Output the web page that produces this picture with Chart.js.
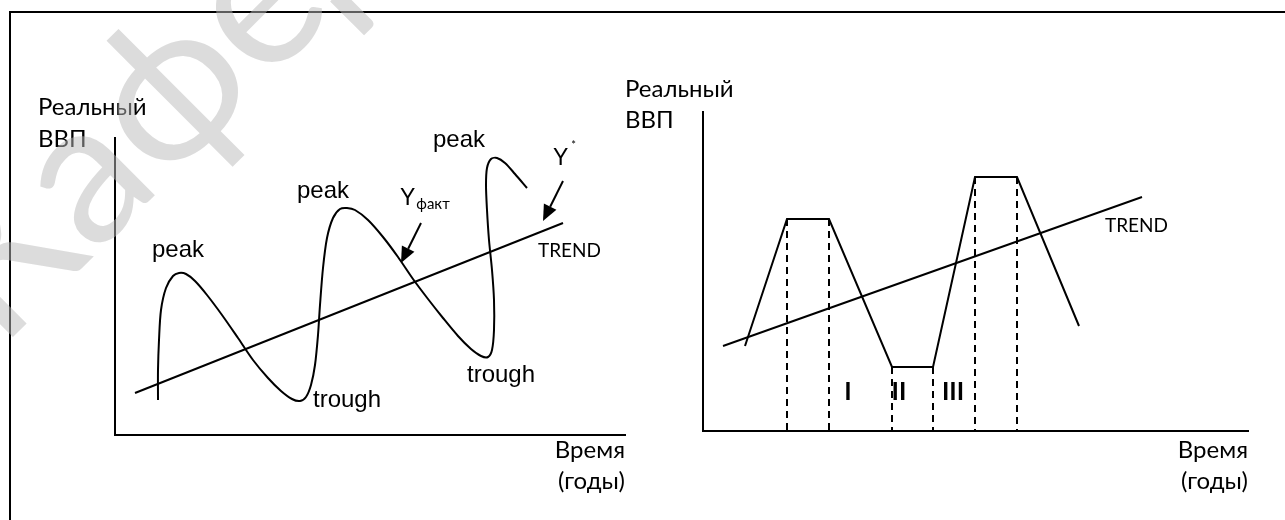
<!DOCTYPE html>
<html>
<head>
<meta charset="utf-8">
<script src="https://cdn.jsdelivr.net/npm/chart.js@4/dist/chart.umd.min.js"></script>
<style>
  body { margin: 0; background: #fff; }
  #frame { position: absolute; left: 9px; top: 11px; width: 1300px; height: 540px; border-left: 2px solid #000; border-top: 2px solid #000; }
  canvas { position: absolute; left: 0; top: 0; }
</style>
</head>
<body>
<div id="frame"></div>
<canvas id="cycle" width="1285" height="520"></canvas>
<canvas id="phases" width="1285" height="520"></canvas>
<script>
// left panel: actual GDP wave around the trend (time units, GDP units)
const waveX = [4.3, 4.3, 4.4, 4.6, 5.1, 5.8, 6.4, 7.1, 8.0, 9.2, 10.7, 12.3, 13.8, 15.3, 16.6, 17.7, 18.5, 19.1, 19.6, 20.0, 20.3, 20.5, 20.8, 21.2, 21.8, 22.5, 23.2, 24.0, 25.3, 26.8, 28.3, 29.8, 31.3, 32.8, 34.3, 35.6, 36.6, 37.3, 37.7, 37.9, 37.9, 37.7, 37.4, 37.2, 37.1, 37.2, 37.6, 38.2, 39.0, 40.0, 41.2];
const waveY = [3.5, 6.5, 9.5, 12.5, 14.7, 15.9, 16.2, 16.1, 15.4, 14.0, 12.0, 9.7, 7.5, 5.7, 4.4, 3.6, 3.4, 3.8, 5.0, 7.0, 10.0, 13.0, 16.7, 19.7, 21.7, 22.6, 22.7, 22.5, 21.5, 19.8, 17.8, 15.6, 13.6, 11.7, 9.9, 8.6, 7.9, 7.8, 8.5, 10.5, 13.5, 16.5, 19.5, 22.5, 25.0, 26.7, 27.6, 27.7, 27.2, 26.1, 24.7];
const trendLeftX = [2.0, 44.8];
const trendLeftY = [4.2, 21.2];

// right panel: stylised cycle with flat phases
const phaseX = [4.2, 8.4, 12.6, 18.9, 23.0, 27.2, 31.4, 37.6];
const phaseY = [8.5, 21.2, 21.2, 6.4, 6.4, 25.4, 25.4, 10.5];
const trendRightX = [2.0, 43.9];
const trendRightY = [8.5, 23.4];
const phaseNames = ['I', 'II', 'III'];
const phaseNameX = [14.5, 19.6, 25.0];

const LATO = 'Lato, "Open Sans", sans-serif';
const ARIAL = '"Liberation Sans", Arial, sans-serif';

const pts = (xs, ys) => xs.map((x, i) => ({ x, y: ys[i] }));

function line(data, extra) {
  return Object.assign({ data, borderColor: '#000', borderWidth: 2, pointRadius: 0, tension: 0, clip: false, fill: false }, extra);
}

function axisScales(xmax, ymax) {
  const common = {
    type: 'linear', min: 0,
    border: { display: true, color: '#000', width: 2 },
    grid: { display: false, drawTicks: false },
    ticks: { display: false }
  };
  return { x: { ...common, max: xmax }, y: { ...common, max: ymax } };
}

function drawArrow(ctx, x0, y0, x1, y1) {
  const ang = Math.atan2(y1 - y0, x1 - x0);
  const len = 16, half = 7;
  const bx = x1 - len * Math.cos(ang), by = y1 - len * Math.sin(ang);
  ctx.beginPath();
  ctx.moveTo(x0, y0);
  ctx.lineTo(bx, by);
  ctx.lineWidth = 2;
  ctx.stroke();
  ctx.beginPath();
  ctx.moveTo(x1, y1);
  ctx.lineTo(bx + half * Math.sin(ang), by - half * Math.cos(ang));
  ctx.lineTo(bx - half * Math.sin(ang), by + half * Math.cos(ang));
  ctx.closePath();
  ctx.fill();
}

const annotate = {
  id: 'annotate',
  afterDatasetsDraw(chart, args, o) {
    const { ctx, chartArea: a, scales: { x, y } } = chart;
    ctx.save();
    ctx.fillStyle = '#000';
    ctx.strokeStyle = '#000';
    ctx.textBaseline = 'alphabetic';
    // axis titles
    ctx.font = '24px ' + LATO;
    ctx.textAlign = 'left';
    o.yTitle.lines.forEach((t, i) => ctx.fillText(t, a.left + o.yTitle.dx, a.top + o.yTitle.dy[i]));
    ctx.textAlign = 'right';
    o.xTitle.lines.forEach((t, i) => ctx.fillText(t, a.right, a.bottom + o.xTitle.dy[i]));
    // text labels at data positions
    (o.labels || []).forEach(l => {
      ctx.font = l.font;
      ctx.textAlign = l.align || 'left';
      const px = x.getPixelForValue(l.x), py = y.getPixelForValue(l.y);
      ctx.fillText(l.text, px, py);
      if (l.sub || l.sup) {
        const w = ctx.measureText(l.text).width;
        ctx.font = l.small;
        ctx.textAlign = 'left';
        if (l.sub) ctx.fillText(l.sub, px + w + 1, py + 4);
        if (l.sup) ctx.fillText(l.sup, px + w + 3, py - 16);
      }
    });
    (o.arrows || []).forEach(r => drawArrow(ctx, x.getPixelForValue(r[0]), y.getPixelForValue(r[1]), x.getPixelForValue(r[2]), y.getPixelForValue(r[3])));
    if (o.watermark) {
      ctx.translate(0, 350);
      ctx.rotate(-Math.PI / 4);
      ctx.font = '200px ' + LATO;
      ctx.textAlign = 'left';
      ctx.fillStyle = 'rgba(185,185,185,0.5)';
      ctx.fillText(o.watermark, 0, 0);
    }
    ctx.restore();
  }
};

const baseOpts = {
  responsive: false,
  animation: false,
  events: [],
  plugins: { legend: { display: false }, tooltip: { enabled: false } }
};

new Chart('cycle', {
  type: 'line',
  data: {
    datasets: [
      line(pts(waveX, waveY), { tension: 0.3 }),
      line(pts(trendLeftX, trendLeftY))
    ]
  },
  options: {
    ...baseOpts,
    layout: { autoPadding: false, padding: { left: 115, top: 138, right: 660, bottom: 85 } },
    scales: axisScales(51, 29.7),
    plugins: {
      ...baseOpts.plugins,
      annotate: {
        yTitle: { lines: ['Реальный', 'ВВП'], dx: -77, dy: [-23, 9] },
        xTitle: { lines: ['Время', '(годы)'], dy: [23, 54] },
        labels: [
          { text: 'peak', x: 3.7, y: 17.8, font: '24px ' + ARIAL },
          { text: 'peak', x: 18.2, y: 23.7, font: '24px ' + ARIAL },
          { text: 'peak', x: 31.8, y: 28.8, font: '24px ' + ARIAL },
          { text: 'trough', x: 19.8, y: 2.8, font: '24px ' + ARIAL },
          { text: 'trough', x: 35.2, y: 5.3, font: '24px ' + ARIAL },
          { text: 'Y', x: 28.5, y: 23.0, font: '23px ' + ARIAL, sub: 'факт', small: '15px ' + LATO },
          { text: 'Y', x: 43.8, y: 27.0, font: '23px ' + ARIAL, sup: '*', small: '11px ' + LATO },
          { text: 'TREND', x: 42.3, y: 17.8, font: '19px ' + LATO }
        ],
        arrows: [[30.6, 21.2, 28.6, 17.2], [44.8, 25.4, 42.8, 21.4]],
        watermark: 'Кафедра'
      }
    }
  },
  plugins: [annotate]
});

// dashed drop lines from each corner of the phase path down to the time axis
const drops = phaseX.slice(1, 7).map((x, i) => line([{ x, y: phaseY[i + 1] }, { x, y: 0 }], { borderDash: [7, 5] }));

new Chart('phases', {
  type: 'line',
  data: {
    datasets: [
      line(pts(phaseX, phaseY)),
      line(pts(trendRightX, trendRightY)),
      ...drops
    ]
  },
  options: {
    ...baseOpts,
    layout: { autoPadding: false, padding: { left: 703, top: 112, right: 37, bottom: 89 } },
    scales: axisScales(54.5, 31.9),
    plugins: {
      ...baseOpts.plugins,
      annotate: {
        yTitle: { lines: ['Реальный', 'ВВП'], dx: -78, dy: [-15, 16] },
        xTitle: { lines: ['Время', '(годы)'], dy: [27, 58] },
        labels: [
          { text: 'TREND', x: 40.2, y: 19.9, font: '19px ' + LATO },
          ...phaseNames.map((t, i) => ({ text: t, x: phaseNameX[i], y: 3.1, font: 'bold 25px ' + LATO, align: 'center' }))
        ]
      }
    }
  },
  plugins: [annotate]
});
</script>
</body>
</html>
